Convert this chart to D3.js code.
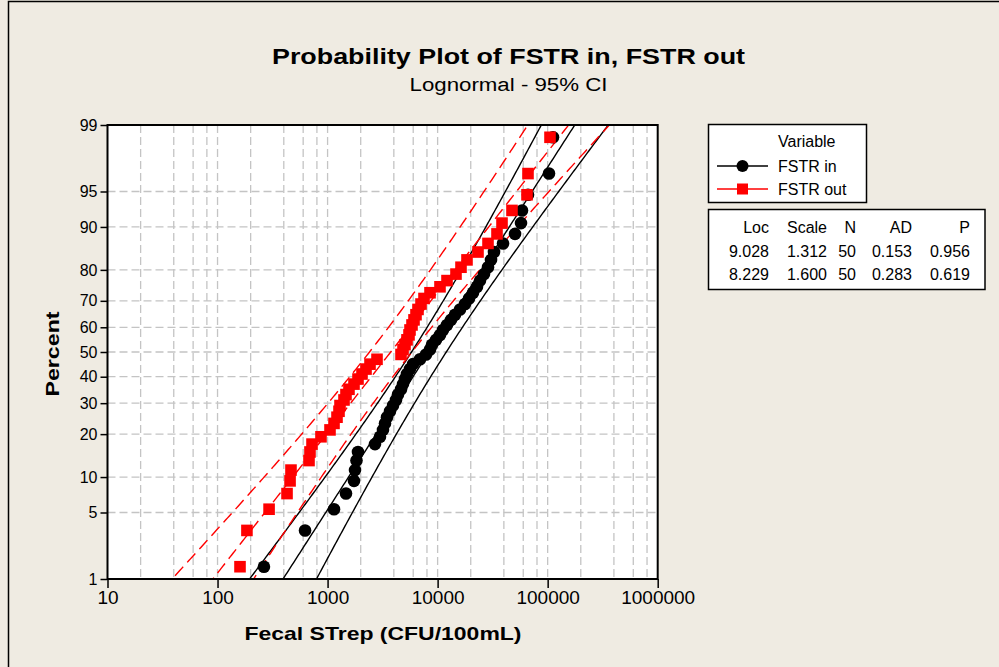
<!DOCTYPE html>
<html><head><meta charset="utf-8">
<script src="https://cdn.jsdelivr.net/npm/d3@7"></script>
<style>body{margin:0;background:#efebe2} svg{display:block}</style>
</head><body><svg id="c" width="999" height="667"></svg>
<script>
// ---- data ----
const seriesNames = ["FSTR in", "FSTR out"];
const fstrIn = [264, 624, 1144, 1470, 1738, 1775, 1831, 1890, 2697, 2995,
  3188, 3325, 3467, 3692, 3932, 4186, 4365, 4648, 4847, 5053,
  5269, 5610, 5974, 6917, 7843, 8528, 8891, 9667, 10510, 11190,
  12170, 13230, 14390, 15970, 17740, 19290, 20970, 22800, 24280, 26400,
  28700, 30560, 32540, 39290, 50500, 57240, 58450, 66270, 102850, 111800];
const fstrOut = [160, 185, 294, 428, 456, 465, 678, 692, 722, 871,
  1052, 1144, 1218, 1270, 1297, 1410, 1470, 1565, 1738, 1890,
  2055, 2235, 2430, 2813, 4648, 4847, 5053, 5269, 5495, 5610,
  5851, 6101, 6361, 6633, 7063, 7521, 8528, 10510, 12170, 14690,
  16310, 18490, 23280, 28700, 34640, 38470, 47410, 64900, 66270, 105030];
const locs = [9.028, 8.229];
const scales = [1.312, 1.600];
const ns = [50, 50];
const ads = ["0.153", "0.283"];
const pvals = ["0.956", "0.619"];
const xTicks = [10, 100, 1000, 10000, 100000, 1000000];
const yTicks = [1, 5, 10, 20, 30, 40, 50, 60, 70, 80, 90, 95, 99];
const colors = ["#000000", "#ff0000"];

// ---- helpers ----
function probit(p){
  const a=[-3.969683028665376e+01,2.209460984245205e+02,-2.759285104469687e+02,1.383577518672690e+02,-3.066479806614716e+01,2.506628277459239e+00];
  const b=[-5.447609879822406e+01,1.615858368580409e+02,-1.556989798598866e+02,6.680131188771972e+01,-1.328068155288572e+01];
  const c=[-7.784894002430293e-03,-3.223964580411365e-01,-2.400758277161838e+00,-2.549732539343734e+00,4.374664141464968e+00,2.938163982698783e+00];
  const d=[7.784695709041462e-03,3.224671290700398e-01,2.445134137142996e+00,3.754408661907416e+00];
  const pl=0.02425, ph=1-pl; let q,r;
  if(p<pl){q=Math.sqrt(-2*Math.log(p));return (((((c[0]*q+c[1])*q+c[2])*q+c[3])*q+c[4])*q+c[5])/((((d[0]*q+d[1])*q+d[2])*q+d[3])*q+1);}
  if(p>ph){q=Math.sqrt(-2*Math.log(1-p));return -(((((c[0]*q+c[1])*q+c[2])*q+c[3])*q+c[4])*q+c[5])/((((d[0]*q+d[1])*q+d[2])*q+d[3])*q+1);}
  q=p-0.5;r=q*q;return (((((a[0]*r+a[1])*r+a[2])*r+a[3])*r+a[4])*r+a[5])*q/(((((b[0]*r+b[1])*r+b[2])*r+b[3])*r+b[4])*r+1);
}

const svg = d3.select("#c");
const font = "'Liberation Sans', Arial, sans-serif";
const L = 107.5, R = 657.7, T = 125, B = 579;

// background + outer border
svg.append("rect").attr("width",999).attr("height",667).attr("fill","#efebe2");
svg.append("path").attr("d","M8.5,667V1.5H999").attr("fill","none").attr("stroke","#000").attr("stroke-width",1.5);

const x = d3.scaleLog().domain([10, 1e6]).range([L, R]);
const y = d3.scaleLinear().domain([probit(0.01), probit(0.99)]).range([B, T]);

// plot area
svg.append("rect").attr("x",L).attr("y",T).attr("width",R-L).attr("height",B-T).attr("fill","#fff");

// grid
const gridX = [];
for (let k = 1; k <= 5; k++) for (const m of [2,4,6,8,10]) { const v = m*Math.pow(10,k); if (v < 1e6) gridX.push(v); }
const grid = svg.append("g").attr("stroke","#c4c4c4").attr("stroke-width",1.3).attr("stroke-dasharray","8,4");
grid.selectAll("line.v").data(gridX).join("line").attr("class","v")
  .attr("x1",d=>x(d)).attr("x2",d=>x(d)).attr("y1",T).attr("y2",B);
grid.selectAll("line.h").data(yTicks.slice(1,-1)).join("line").attr("class","h")
  .attr("y1",d=>y(probit(d/100))).attr("y2",d=>y(probit(d/100))).attr("x1",L).attr("x2",R);

// clip
svg.append("clipPath").attr("id","clip").append("rect").attr("x",L).attr("y",T).attr("width",R-L).attr("height",B-T);
const plot = svg.append("g").attr("clip-path","url(#clip)");

// fit + CI
const zs = d3.range(-2.7, 2.7001, 0.02);
[0,1].forEach(s => {
  const mu = locs[s], sg = scales[s], n = ns[s];
  const mk = k => d3.line().x(z => x(Math.exp(mu + sg*z + k*1.96*sg*Math.sqrt(1/n + z*z/(2*n))))).y(z => y(z));
  [-1,0,1].forEach(k => {
    plot.append("path").attr("d", mk(k)(zs)).attr("fill","none")
      .attr("stroke", colors[s]).attr("stroke-width", 1.4)
      .attr("stroke-dasharray", s === 1 ? "12,6" : null);
  });
});

// points
const pos = (i, n) => probit((i + 1 - 0.3) / (n + 0.4));
const g1 = svg.append("g");
g1.selectAll("circle").data(fstrIn).join("circle")
  .attr("cx", d => x(d)).attr("cy", (d,i) => y(pos(i, fstrIn.length))).attr("r", 6.3).attr("fill", colors[0]);
const g2 = svg.append("g");
g2.selectAll("rect").data(fstrOut).join("rect")
  .attr("x", d => x(d) - 5.8).attr("y", (d,i) => y(pos(i, fstrOut.length)) - 5.8)
  .attr("width", 11.6).attr("height", 11.6).attr("fill", colors[1]);

// frame
svg.append("rect").attr("x",L).attr("y",T).attr("width",R-L).attr("height",B-T)
  .attr("fill","none").attr("stroke","#000").attr("stroke-width",2);

// axes
const yAxis = d3.axisLeft(y).tickValues(yTicks.map(p => probit(p/100))).tickFormat((d,i) => yTicks[i]).tickSize(7).tickPadding(3);
const ga = svg.append("g").attr("transform",`translate(${L},0)`).call(yAxis);
ga.select(".domain").remove();
ga.selectAll("line").attr("stroke","#000").attr("stroke-width",1.5);
ga.selectAll("text").attr("font-family",font).attr("font-size",16).attr("fill","#000");

const xAxis = d3.axisBottom(x).tickValues(xTicks).tickFormat(d3.format("d")).tickSize(9).tickPadding(3);
const gb = svg.append("g").attr("transform",`translate(0,${B})`).call(xAxis);
gb.select(".domain").remove();
gb.selectAll("line").attr("stroke","#000").attr("stroke-width",1.5);
gb.selectAll("text").attr("font-family",font).attr("font-size",19).attr("fill","#000");

// titles
svg.append("text").attr("x",508.5).attr("y",64).attr("text-anchor","middle")
  .attr("font-family",font).attr("font-weight","bold").attr("font-size",22)
  .attr("textLength",473).attr("lengthAdjust","spacingAndGlyphs")
  .text("Probability Plot of FSTR in, FSTR out");
svg.append("text").attr("x",508.5).attr("y",91).attr("text-anchor","middle")
  .attr("font-family",font).attr("font-size",18)
  .attr("textLength",198).attr("lengthAdjust","spacingAndGlyphs")
  .text("Lognormal - 95% CI");
svg.append("text").attr("x",383).attr("y",640).attr("text-anchor","middle")
  .attr("font-family",font).attr("font-weight","bold").attr("font-size",19)
  .attr("textLength",277).attr("lengthAdjust","spacingAndGlyphs")
  .text("Fecal STrep (CFU/100mL)");
svg.append("text").attr("transform","translate(59,354) rotate(-90)").attr("text-anchor","middle")
  .attr("font-family",font).attr("font-weight","bold").attr("font-size",19)
  .attr("textLength",85).attr("lengthAdjust","spacingAndGlyphs")
  .text("Percent");

// legend
const lg = svg.append("g").attr("font-family",font).attr("font-size",16);
lg.append("rect").attr("x",708.5).attr("y",124.5).attr("width",158).attr("height",78).attr("fill","#fff").attr("stroke","#000").attr("stroke-width",1.5);
lg.append("text").attr("x",778).attr("y",147).text("Variable");
seriesNames.forEach((nm, s) => {
  const yy = 166 + s*23;
  lg.append("line").attr("x1",717).attr("x2",768).attr("y1",yy).attr("y2",yy).attr("stroke",colors[s]).attr("stroke-width",1.5);
  if (s === 0) lg.append("circle").attr("cx",742.5).attr("cy",yy).attr("r",6).attr("fill",colors[s]);
  else lg.append("rect").attr("x",737).attr("y",yy-5.5).attr("width",11).attr("height",11).attr("fill",colors[s]);
  lg.append("text").attr("x",778).attr("y",yy+6).text(nm);
});

// stats table
const tb = svg.append("g").attr("font-family",font).attr("font-size",16).attr("text-anchor","end");
tb.append("rect").attr("x",708.5).attr("y",209.5).attr("width",276.5).attr("height",80).attr("fill","#fff").attr("stroke","#000").attr("stroke-width",1.5);
const colX = [769, 827, 856, 912, 970];
const headers = ["Loc","Scale","N","AD","P"];
headers.forEach((h,j) => tb.append("text").attr("x",colX[j]).attr("y",233).text(h));
[0,1].forEach(s => {
  const row = [locs[s].toFixed(3), scales[s].toFixed(3), ns[s], ads[s], pvals[s]];
  row.forEach((v,j) => tb.append("text").attr("x",colX[j]).attr("y",257 + s*23).text(v));
});
</script></body></html>
